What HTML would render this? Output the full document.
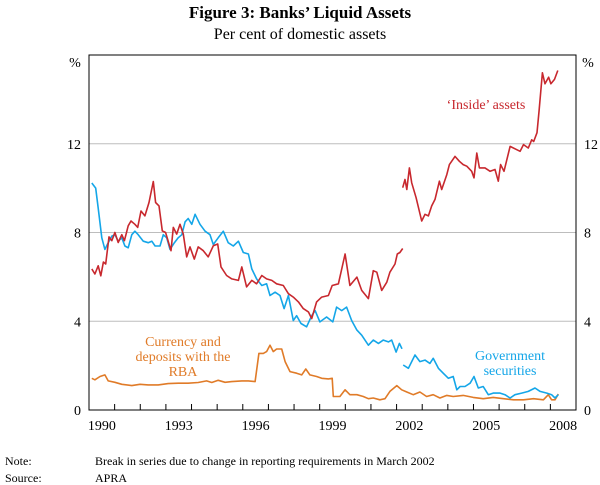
<!DOCTYPE html>
<html><head><meta charset="utf-8"><style>
html,body{margin:0;padding:0;background:#fff;}
svg{display:block;font-family:"Liberation Serif",serif;}
</style></head><body>
<svg width="600" height="485" viewBox="0 0 600 485">
<text x="300" y="18" text-anchor="middle" font-size="17" font-weight="bold">Figure 3: Banks’ Liquid Assets</text>
<text x="300" y="39" text-anchor="middle" font-size="16">Per cent of domestic assets</text>
<g id="grid"></g>
<g id="series"></g>
<rect x="89" y="55" width="487" height="355" fill="none" stroke="#000" stroke-width="1"/>
<g id="axes" font-size="14"></g>
<text x="75" y="67" text-anchor="middle" font-size="14">%</text>
<text x="588" y="67" text-anchor="middle" font-size="14">%</text>
<text x="486" y="109" text-anchor="middle" font-size="14" fill="#c8282e">‘Inside’ assets</text>
<text text-anchor="middle" font-size="14" fill="#e07b28"><tspan x="183" y="346">Currency and</tspan><tspan x="183" y="361">deposits with the</tspan><tspan x="183" y="376">RBA</tspan></text>
<text text-anchor="middle" font-size="14" fill="#14a6e8"><tspan x="510" y="360">Government</tspan><tspan x="510" y="375">securities</tspan></text>
<text x="5" y="465" font-size="12">Note:</text>
<text x="95" y="465" font-size="12">Break in series due to change in reporting requirements in March 2002</text>
<text x="5" y="482" font-size="12">Source:</text>
<text x="95" y="482" font-size="12">APRA</text>
</svg>
<script>
const yTicks=[0,4,8,12];
const xYears=[1990,1991,1992,1993,1994,1995,1996,1997,1998,1999,2000,2001,2002,2003,2004,2005,2006,2007,2008];
const xLabels=[1990,1993,1996,1999,2002,2005,2008];
const insideDates1=[1990.11,1990.23,1990.36,1990.46,1990.56,1990.65,1990.78,1990.89,1991.01,1991.14,1991.28,1991.38,1991.53,1991.64,1991.79,1991.9,1992.03,1992.18,1992.34,1992.51,1992.6,1992.73,1992.86,1992.99,1993.2,1993.29,1993.42,1993.55,1993.68,1993.81,1993.94,1994.11,1994.26,1994.46,1994.65,1994.85,1995.02,1995.15,1995.37,1995.57,1995.83,1995.96,1996.15,1996.35,1996.54,1996.74,1996.93,1997.13,1997.32,1997.58,1997.78,1997.97,1998.17,1998.36,1998.56,1998.69,1998.88,1999.08,1999.34,1999.49,1999.73,1999.99,2000.18,2000.45,2000.64,2000.9,2001.09,2001.23,2001.42,2001.62,2001.74,2001.94,2002.03,2002.13,2002.24];
const insideValues1=[6.36,6.13,6.5,6.05,6.67,6.58,7.8,7.63,8.0,7.55,7.9,7.63,8.3,8.52,8.37,8.23,8.97,8.75,9.35,10.3,9.35,9.2,8.07,8.0,7.18,8.23,7.93,8.37,7.93,6.9,7.35,6.8,7.35,7.18,6.9,7.4,7.48,6.45,6.06,5.91,5.84,6.45,5.55,5.84,5.69,6.06,5.91,5.84,5.69,5.61,5.24,5.09,4.87,4.57,4.42,4.12,4.87,5.09,5.16,5.61,5.69,7.03,5.61,5.99,5.39,5.02,6.28,6.21,5.39,5.76,6.21,6.58,7.03,7.1,7.28];
const insideDates2=[2002.24,2002.33,2002.4,2002.5,2002.59,2002.76,2002.98,2003.11,2003.24,2003.37,2003.5,2003.67,2003.76,2003.96,2004.06,2004.28,2004.45,2004.6,2004.74,2004.93,2005.02,2005.13,2005.23,2005.45,2005.65,2005.84,2005.97,2006.06,2006.19,2006.43,2006.69,2006.82,2006.95,2007.14,2007.27,2007.35,2007.48,2007.56,2007.69,2007.79,2007.93,2008.02,2008.16,2008.29];
const insideValues2=[10.02,10.39,9.94,10.91,10.24,9.57,8.52,8.82,8.75,9.2,9.49,10.31,9.94,10.61,11.06,11.43,11.21,11.06,10.99,10.76,10.46,11.58,10.91,10.91,10.76,10.84,10.31,11.06,10.76,11.88,11.73,11.66,11.96,11.81,12.18,12.1,12.5,13.5,15.2,14.7,15.0,14.7,14.9,15.3];
const govDates1=[1990.11,1990.26,1990.36,1990.5,1990.62,1990.75,1990.89,1991.01,1991.14,1991.28,1991.4,1991.53,1991.67,1991.79,1991.92,1992.12,1992.31,1992.45,1992.58,1992.77,1992.9,1993.03,1993.16,1993.33,1993.48,1993.62,1993.75,1993.87,1994.01,1994.14,1994.33,1994.53,1994.72,1994.85,1995.04,1995.24,1995.43,1995.63,1995.83,1996.02,1996.22,1996.35,1996.54,1996.74,1996.93,1997.06,1997.26,1997.45,1997.61,1997.78,1997.97,1998.1,1998.27,1998.49,1998.69,1998.82,1999.01,1999.27,1999.51,1999.66,1999.86,2000.05,2000.25,2000.45,2000.64,2000.9,2001.09,2001.29,2001.48,2001.68,2001.81,2001.98,2002.11,2002.21];
const govValues1=[10.23,10.0,9.1,7.76,7.24,7.54,7.84,7.9,7.61,7.76,7.39,7.31,7.9,8.06,7.9,7.61,7.54,7.61,7.39,7.39,7.9,7.76,7.24,7.54,7.76,7.9,8.48,8.63,8.37,8.82,8.37,8.06,7.9,7.46,7.76,8.06,7.54,7.39,7.61,7.1,7.03,6.36,5.91,5.61,5.69,5.16,5.31,5.16,4.57,5.16,4.03,4.25,3.9,3.75,4.25,4.48,3.97,4.19,3.97,4.64,4.48,4.64,4.03,3.6,3.37,2.92,3.15,3.0,3.15,3.07,3.15,2.61,3.0,2.76];
const govDates2=[2002.26,2002.46,2002.59,2002.72,2002.91,2003.11,2003.3,2003.43,2003.63,2003.82,2004.02,2004.21,2004.35,2004.48,2004.67,2004.87,2005.02,2005.19,2005.38,2005.58,2005.77,2006.04,2006.23,2006.43,2006.62,2006.88,2007.14,2007.4,2007.6,2007.86,2008.05,2008.18,2008.31];
const govValues2=[2.03,1.88,2.18,2.48,2.18,2.25,2.10,2.33,1.88,1.66,1.43,1.51,0.91,1.06,1.06,1.21,1.51,0.99,1.06,0.69,0.76,0.76,0.69,0.54,0.69,0.76,0.84,0.99,0.84,0.76,0.69,0.54,0.69];
const rbaDates=[1990.11,1990.23,1990.43,1990.62,1990.75,1991.01,1991.28,1991.67,1991.99,1992.31,1992.7,1993.09,1993.48,1993.87,1994.26,1994.59,1994.79,1995.04,1995.31,1995.57,1995.96,1996.22,1996.48,1996.63,1996.8,1996.93,1997.06,1997.19,1997.32,1997.52,1997.65,1997.84,1998.1,1998.3,1998.46,1998.62,1998.88,1999.08,1999.34,1999.49,1999.53,1999.79,1999.99,2000.18,2000.45,2000.7,2000.9,2001.09,2001.35,2001.55,2001.74,2002.01,2002.2,2002.4,2002.65,2002.91,2003.17,2003.43,2003.69,2003.96,2004.21,2004.6,2004.99,2005.38,2005.77,2006.17,2006.56,2006.95,2007.34,2007.73,2007.92,2008.05,2008.18,2008.31];
const rbaValues=[1.43,1.36,1.51,1.58,1.31,1.25,1.16,1.1,1.16,1.13,1.13,1.19,1.21,1.21,1.24,1.31,1.24,1.34,1.25,1.28,1.31,1.31,1.28,2.55,2.55,2.63,2.92,2.63,2.75,2.75,2.18,1.73,1.66,1.58,1.85,1.58,1.51,1.43,1.40,1.43,0.61,0.61,0.91,0.69,0.69,0.61,0.51,0.54,0.46,0.51,0.84,1.1,0.91,0.81,0.69,0.81,0.61,0.69,0.54,0.66,0.61,0.66,0.57,0.51,0.57,0.51,0.46,0.46,0.51,0.46,0.69,0.46,0.46,0.72];

const L=89,R=576,T=55,B=410,X0=1990,X1=2009,Y0=0,Y1=16;
function xs(v){return L+(v-X0)/(X1-X0)*(R-L);}
function ys(v){return B-(v-Y0)/(Y1-Y0)*(B-T);}
const NS='http://www.w3.org/2000/svg';
const grid=document.getElementById('grid'),axes=document.getElementById('axes'),series=document.getElementById('series');
yTicks.forEach(t=>{
  if(t>0){
    const g=document.createElementNS(NS,'line');
    g.setAttribute('x1',L);g.setAttribute('x2',R);g.setAttribute('y1',ys(t));g.setAttribute('y2',ys(t));
    g.setAttribute('stroke','#bdbdbd');g.setAttribute('stroke-width','1');
    
    
    grid.appendChild(g);
  }
  [[L-8,'end','left'],[R+8,'start','right']].forEach(([x,a,side])=>{
    const tx=document.createElementNS(NS,'text');
    tx.setAttribute('x',x);tx.setAttribute('y',ys(t)+5);tx.setAttribute('text-anchor',a);
    tx.textContent=t;
    
    
    axes.appendChild(tx);
  });
});
xYears.forEach(yv=>{
  if(yv===X0)return;
  const tk=document.createElementNS(NS,'line');
  tk.setAttribute('x1',xs(yv));tk.setAttribute('x2',xs(yv));tk.setAttribute('y1',B);tk.setAttribute('y2',B-6);
  tk.setAttribute('stroke','#000');
  
  
  axes.appendChild(tk);
});
xLabels.forEach(yv=>{
  const tx=document.createElementNS(NS,'text');
  tx.setAttribute('x',xs(yv+0.5));tx.setAttribute('y',B+20);tx.setAttribute('text-anchor','middle');
  tx.textContent=yv;
  
  
  axes.appendChild(tx);
});
function line(d,v,color,name){
  const p=document.createElementNS(NS,'polyline');
  p.setAttribute('points',d.map((x,i)=>xs(x).toFixed(1)+','+ys(v[i]).toFixed(1)).join(' '));
  p.setAttribute('fill','none');p.setAttribute('stroke',color);p.setAttribute('stroke-width','1.6');p.setAttribute('stroke-linejoin','round');
  
  
  series.appendChild(p);
}
line(rbaDates,rbaValues,'#e07b28','currency-deposits-rba-line');
line(govDates1,govValues1,'#14a6e8','government-securities-line-pre-2002');
line(govDates2,govValues2,'#14a6e8','government-securities-line-post-2002');
line(insideDates1,insideValues1,'#c8282e','inside-assets-line-pre-2002');
line(insideDates2,insideValues2,'#c8282e','inside-assets-line-post-2002');
</script>
</body></html>
